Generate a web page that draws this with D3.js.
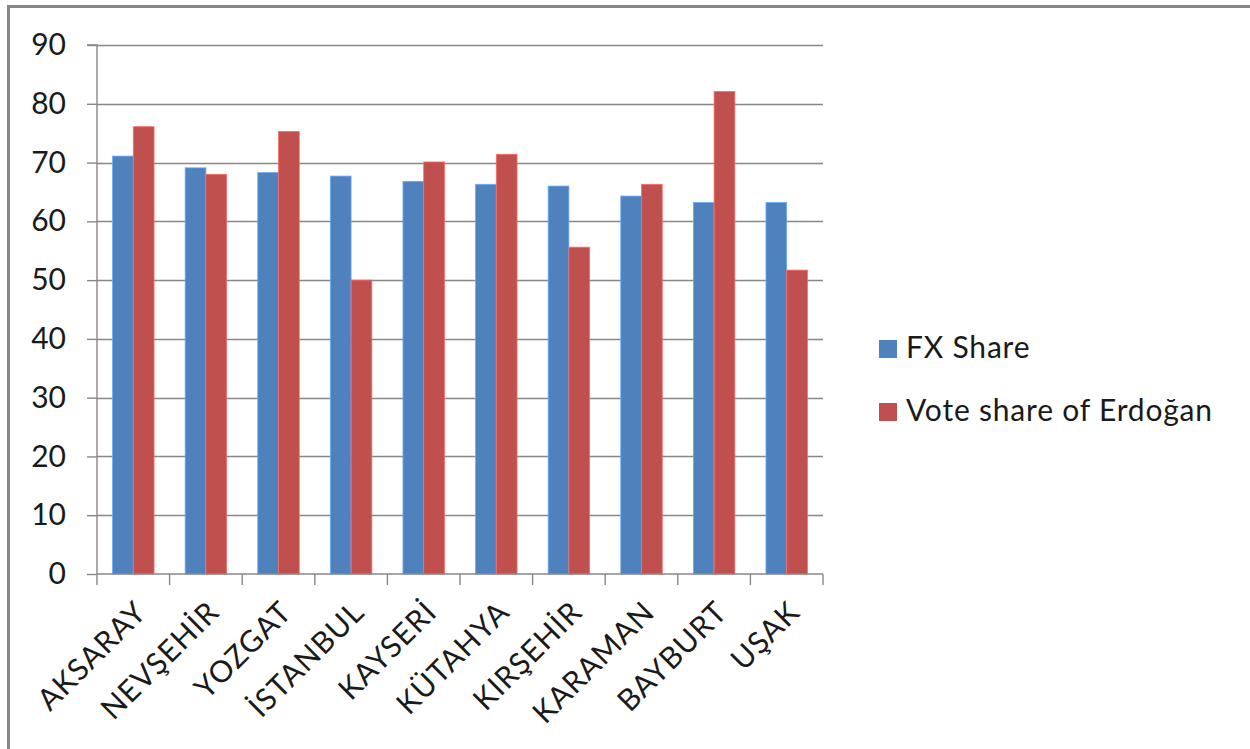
<!DOCTYPE html>
<html>
<head>
<meta charset="utf-8">
<script src="https://cdn.jsdelivr.net/npm/d3@7"></script>
<style>
  html, body { margin: 0; padding: 0; background: #ffffff; }
  svg { display: block; }
  text { font-family: Lato, "Open Sans", sans-serif; fill: #1a1a1a; }
</style>
</head>
<body>
<script>
// Provinces and the two series shown for each
const provinces = ["AKSARAY", "NEVŞEHİR", "YOZGAT", "İSTANBUL", "KAYSERİ", "KÜTAHYA", "KIRŞEHİR", "KARAMAN", "BAYBURT", "UŞAK"];
const fxShare = [71.1, 69.1, 68.3, 67.7, 66.8, 66.3, 66.0, 64.3, 63.2, 63.2];
const voteShare = [76.1, 68.0, 75.3, 50.0, 70.1, 71.4, 55.6, 66.3, 82.1, 51.7];
const seriesNames = ["FX Share", "Vote share of Erdoğan"];
const seriesColors = ["#4F81BD", "#C0504D"];
const yTicks = [0, 10, 20, 30, 40, 50, 60, 70, 80, 90];

const W = 1250, H = 749;
const plot = { left: 97, right: 823, top: 45, bottom: 574 };

const svg = d3.select("body").append("svg").attr("width", W).attr("height", H);

// outer frame (only top and left edges fall inside the view)
svg.append("rect")
  .attr("x", 8.5).attr("y", 6.5)
  .attr("width", W + 20).attr("height", H + 20)
  .attr("fill", "none").attr("stroke", "#878787").attr("stroke-width", 3);

const x = d3.scaleBand().domain(provinces).range([plot.left, plot.right]).paddingInner(0).paddingOuter(0);
const bw = x.bandwidth();
const gap = bw * 1.5 / 3.5;
const xs = d3.scaleBand().domain(seriesNames).range([gap / 2, bw - gap / 2]);
const y = d3.scaleLinear().domain([0, 90]).range([plot.bottom, plot.top]);

// horizontal gridlines
svg.append("g").selectAll("line").data(yTicks.slice(1)).join("line")
  .attr("x1", plot.left).attr("x2", plot.right)
  .attr("y1", d => Math.round(y(d)) + 0.5).attr("y2", d => Math.round(y(d)) + 0.5)
  .attr("stroke", "#878787").attr("stroke-width", 1.4);

// bars
const rows = provinces.map((p, i) => ({ p, vals: [fxShare[i], voteShare[i]] }));
const groups = svg.append("g").selectAll("g").data(rows).join("g")
  .attr("transform", d => `translate(${x(d.p)},0)`);
groups.selectAll("rect").data(d => d.vals.map((v, j) => ({ v, s: seriesNames[j], c: seriesColors[j] }))).join("rect")
  .attr("x", d => xs(d.s))
  .attr("width", xs.bandwidth())
  .attr("y", d => y(d.v))
  .attr("height", d => y(0) - y(d.v))
  .attr("fill", d => d.c)
  .attr("stroke", d => d3.color(d.c).brighter(0.8))
  .attr("stroke-width", 0.8);

// y axis
const yAxis = d3.axisLeft(y).tickValues(yTicks).tickSize(10).tickPadding(21).tickFormat(d3.format("d"));
const gy = svg.append("g").attr("transform", `translate(${plot.left},0)`).call(yAxis);
gy.select(".domain").attr("stroke", "#878787").attr("stroke-width", 1.4).attr("d", `M-10,${plot.top}H0V${plot.bottom}`);
gy.selectAll(".tick line").attr("stroke", "#878787").attr("stroke-width", 1.4);
gy.selectAll(".tick text").attr("font-size", 30).attr("fill", "#1a1a1a").attr("font-family", "Lato, sans-serif");

// x axis line and boundary ticks
const boundaries = provinces.map(p => x(p)).concat([plot.right]);
svg.append("line")
  .attr("x1", plot.left).attr("x2", plot.right)
  .attr("y1", plot.bottom).attr("y2", plot.bottom)
  .attr("stroke", "#878787").attr("stroke-width", 1.4);
svg.append("g").selectAll("line").data(boundaries).join("line")
  .attr("x1", d => d).attr("x2", d => d)
  .attr("y1", plot.bottom).attr("y2", plot.bottom + 11)
  .attr("stroke", "#878787").attr("stroke-width", 1.4);

// rotated category labels
svg.append("g").selectAll("text").data(provinces).join("text")
  .attr("transform", d => `translate(${x(d) + bw / 2 + 15},${614}) rotate(-45)`)
  .attr("text-anchor", "end")
  .attr("font-size", 30)
  .attr("letter-spacing", 1)
  .text(d => d);

// legend
const legend = svg.append("g").selectAll("g").data(seriesNames).join("g")
  .attr("transform", (d, i) => `translate(879,${340 + i * 63})`);
legend.append("rect").attr("width", 18).attr("height", 18).attr("fill", (d, i) => seriesColors[i]);
legend.append("text").attr("x", 27).attr("y", 18).attr("font-size", 30)
  .attr("letter-spacing", 0.8).text(d => d);
</script>
</body>
</html>
